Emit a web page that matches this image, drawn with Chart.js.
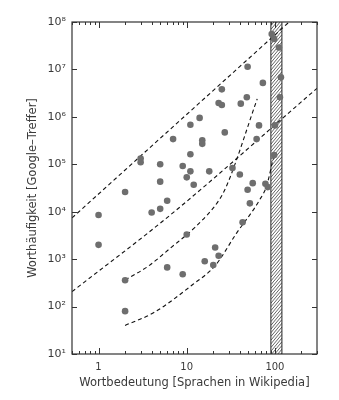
<!DOCTYPE html>
<html>
<head>
<meta charset="utf-8">
<script src="https://cdn.jsdelivr.net/npm/chart.js@4"></script>
<style>
html,body{margin:0;padding:0;background:#fff}
</style>
</head>
<body>
<canvas id="myChart" width="339" height="400"></canvas>
<script>
// Punkte: Wortbedeutung (Sprachen) und Worthaeufigkeit (Google-Treffer)
const bedeutung=[92,98,111,49,73,117,25,48,114,23,25,41,14,66,100,27,15,15,62,98,18,33,40,56,78,83,12,11,7,3,3,11,5,9,10,5,2,6,5,4,1,10,1,6,49,52,43,21,23,16,20,9,2,2,11]
const treffer=[5.6e7,4.4e7,2.9e7,1.14e7,5.2e6,6.8e6,3.8e6,2.6e6,2.6e6,1.96e6,1.78e6,1.9e6,9.5e5,6.6e5,6.6e5,4.7e5,3.2e5,2.7e5,3.4e5,1.57e5,7.1e4,8.3e4,6.1e4,4.0e4,3.9e4,3.3e4,3.7e4,6.8e5,3.4e5,1.32e5,1.1e5,1.63e5,1.0e5,9.2e4,5.3e4,4.3e4,2.6e4,1.7e4,1.15e4,9.6e3,8.5e3,3.3e3,2.0e3,670,2.9e4,1.5e4,6.0e3,1.76e3,1.18e3,900,750,480,360,80,7.1e4]

// gestrichelte Linien
const linieA_x=[0.5,145]
const linieA_y=[7.4e3,1e8]
const linieB_x=[0.5,6.5,300]
const linieB_y=[206,8.5e3,4.0e6]
const linieC_x=[2,3.7,6.5,12.4,23.3,28.5,63]
const linieC_y=[363,720,1.7e3,4.7e3,1.77e4,3.6e4,2.4e6]
const linieD_x=[2,4.2,11.8,21,36.6,67,80.5,99]
const linieD_y=[40,74,295,730,3.5e3,1.77e4,3.5e4,1.8e5]

// schraffierter Bereich
const band=[90,120]

// Achsen
const xTicks=[0.5,0.6,0.7,0.8,0.9,1,2,3,4,5,6,7,8,9,10,20,30,40,50,60,70,80,90,100,200,300]
const xBeschriftung=[1,10,100]
const yTicks=[1e1,1e2,1e3,1e4,1e5,1e6,1e7,1e8]
const hoch=['⁰','¹','²','³','⁴','⁵','⁶','⁷','⁸','⁹']

function paare(xs,ys){
    let arreglo=[]
    for(let i=0;i<xs.length;i++){
        arreglo.push({x:xs[i],y:ys[i]})
    }
    return arreglo
}

const schraffur={
    id:'schraffur',
    beforeDatasetsDraw(chart){
        const {ctx,chartArea,scales}=chart
        const x0=scales.x.getPixelForValue(band[0])
        const x1=scales.x.getPixelForValue(band[1])
        const top=chartArea.top, bottom=chartArea.bottom
        const w=x1-x0, rise=w*1.2
        ctx.save()
        ctx.beginPath()
        ctx.rect(x0,top,w,bottom-top)
        ctx.clip()
        ctx.strokeStyle='#333'
        ctx.lineWidth=0.75
        ctx.beginPath()
        for(let t=-rise;t<bottom-top+rise;t+=3.7){
            ctx.moveTo(x0,top+t+rise)
            ctx.lineTo(x1,top+t)
        }
        ctx.stroke()
        ctx.restore()
        ctx.save()
        ctx.strokeStyle='#222'
        ctx.lineWidth=1
        ctx.beginPath()
        ctx.moveTo(x0,top);ctx.lineTo(x0,bottom)
        ctx.moveTo(x1,top);ctx.lineTo(x1,bottom)
        ctx.stroke()
        ctx.restore()
    }
}

// Rahmen mit Strichen nach innen
const rahmen={
    id:'rahmen',
    afterDatasetsDraw(chart){
        const {ctx,chartArea,scales}=chart
        const {left,right,top,bottom}=chartArea
        ctx.save()
        ctx.strokeStyle='#333'
        ctx.lineWidth=1.2
        ctx.strokeRect(left,top,right-left,bottom-top)
        ctx.lineWidth=1
        ctx.beginPath()
        scales.x.ticks.forEach((t)=>{
            const px=Math.round(scales.x.getPixelForValue(t.value))+0.5
            const len=xBeschriftung.includes(t.value)?6:3
            ctx.moveTo(px,bottom);ctx.lineTo(px,bottom-len)
            ctx.moveTo(px,top);ctx.lineTo(px,top+len)
        })
        scales.y.ticks.forEach((t)=>{
            const py=Math.round(scales.y.getPixelForValue(t.value))+0.5
            ctx.moveTo(left,py);ctx.lineTo(left+5,py)
            ctx.moveTo(right,py);ctx.lineTo(right-5,py)
        })
        ctx.stroke()
        ctx.restore()
    }
}

Chart.defaults.font.family='"DejaVu Sans", sans-serif'
Chart.defaults.color='#3a3a3a'

function linie(xs,ys){
    return {
        data:paare(xs,ys),
        showLine:true,
        borderColor:'#111',
        borderWidth:1.1,
        borderDash:[4,3],
        pointRadius:0,
        fill:false,
        cubicInterpolationMode:'monotone'
    }
}

const ctx=document.getElementById('myChart')
new Chart(ctx,{
    type:'scatter',
    data:{
        datasets:[
            {
                data:paare(bedeutung,treffer),
                backgroundColor:'#6e6e6e',
                pointRadius:3.3,
                pointBorderWidth:0
            },
            linie(linieA_x,linieA_y),
            linie(linieB_x,linieB_y),
            linie(linieC_x,linieC_y),
            linie(linieD_x,linieD_y)
        ]
    },
    options:{
        responsive:false,
        animation:false,
        layout:{padding:{top:22,right:22,left:0,bottom:0}},
        plugins:{legend:{display:false},tooltip:{enabled:false}},
        scales:{
            x:{
                type:'logarithmic',
                min:0.5,
                max:300,
                afterBuildTicks(s){ s.ticks=xTicks.map(v=>({value:v})) },
                afterFit(s){ s.height=46 },
                grid:{display:false,drawTicks:false},
                border:{display:false},
                ticks:{
                    autoSkip:false,
                    maxRotation:0,
                    padding:7,
                    font:{size:10},
                    callback:(v)=>xBeschriftung.includes(v)?String(v):''
                },
                title:{
                    display:true,
                    text:'Wortbedeutung [Sprachen in Wikipedia]',
                    font:{size:11.5},
                    padding:{top:0,bottom:10}
                }
            },
            y:{
                type:'logarithmic',
                min:10,
                max:1e8,
                afterBuildTicks(s){ s.ticks=yTicks.map(v=>({value:v})) },
                afterFit(s){ s.width=72 },
                grid:{display:false,drawTicks:false},
                border:{display:false},
                ticks:{
                    autoSkip:false,
                    padding:6,
                    font:{size:11},
                    callback:(v)=>'10'+hoch[Math.round(Math.log10(v))]
                },
                title:{
                    display:true,
                    text:'Worthäufigkeit [Google–Treffer]',
                    font:{size:11.5},
                    padding:{top:26,bottom:0}
                }
            }
        }
    },
    plugins:[schraffur,rahmen]
})
</script>
</body>
</html>
